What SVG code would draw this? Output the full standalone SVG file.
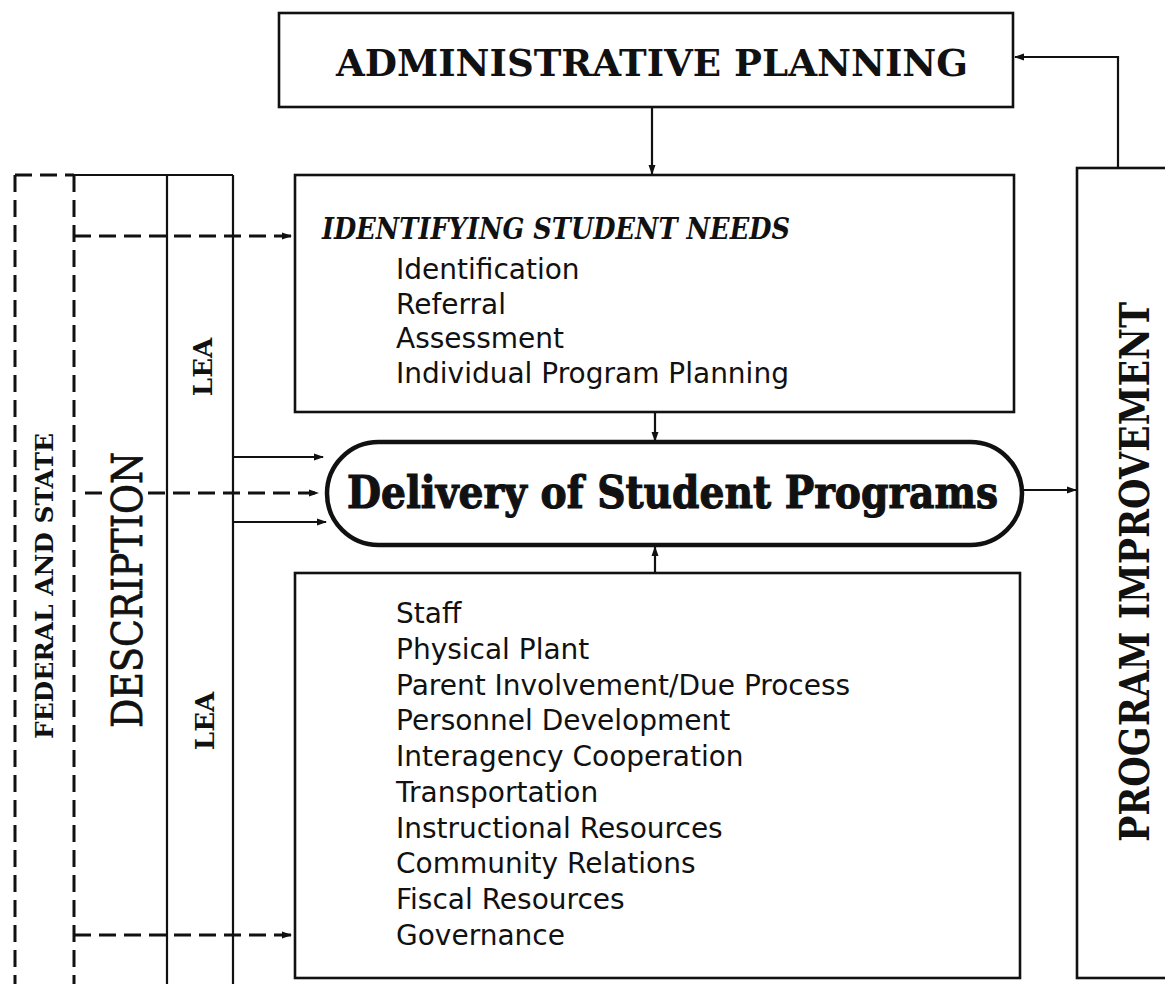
<svg xmlns="http://www.w3.org/2000/svg" width="1165" height="984" viewBox="0 0 1165 984">
  <defs>
    <style>
      .box { fill: none; stroke: #111; stroke-width: 2.6; }
      .oval { fill: #fff; stroke: #111; stroke-width: 4.5; }
      .solid { fill: none; stroke: #111; stroke-width: 2.2; }
      .dash { fill: none; stroke: #111; stroke-width: 3; stroke-dasharray: 17 8; }
      .slab { font-family: "DejaVu Serif", "Liberation Serif", serif; fill: #111; }
      .item { font-family: "DejaVu Sans", "Liberation Sans", sans-serif; font-size: 28px; fill: #111; }
    </style>
    <marker id="ah" viewBox="0 0 10 8" refX="9" refY="4" markerWidth="10" markerHeight="8" markerUnits="userSpaceOnUse" orient="auto">
      <path d="M0,0.5 L10,4 L0,7.5 z" fill="#111"/>
    </marker>
  </defs>
  <rect width="1165" height="984" fill="#fff"/>

  <!-- left frame: federal/state, description and LEA columns -->
  <g id="frame">
    <line class="dash" x1="15" y1="175" x2="15" y2="984"/>
    <line class="dash" x1="15" y1="175" x2="74" y2="175"/>
    <line class="dash" x1="74" y1="175" x2="74" y2="984"/>
    <line class="solid" x1="74" y1="175" x2="233" y2="175"/>
    <line class="solid" x1="167" y1="175" x2="167" y2="984"/>
    <line class="solid" x1="233" y1="175" x2="233" y2="984"/>
  </g>

  <g id="federal-state">
    <text class="slab" font-size="25" font-weight="bold" transform="translate(53,586) rotate(-90)" text-anchor="middle" textLength="306" lengthAdjust="spacingAndGlyphs">FEDERAL AND STATE</text>
  </g>
  <g id="description">
    <text class="slab" font-size="42" transform="translate(142,590) rotate(-90)" text-anchor="middle" textLength="276" lengthAdjust="spacingAndGlyphs" stroke="#111" stroke-width="0.8">DESCRIPTION</text>
  </g>
  <g id="lea-upper">
    <text class="slab" font-size="26" font-weight="bold" transform="translate(212,367) rotate(-90)" text-anchor="middle">LEA</text>
  </g>
  <g id="lea-lower">
    <text class="slab" font-size="26" font-weight="bold" transform="translate(214,721) rotate(-90)" text-anchor="middle">LEA</text>
  </g>

  <g id="administrative-planning">
    <rect class="box" x="279" y="13" width="734" height="94"/>
    <text class="slab" font-size="38" font-weight="bold" x="652" y="76" text-anchor="middle" textLength="632" lengthAdjust="spacingAndGlyphs">ADMINISTRATIVE PLANNING</text>
  </g>

  <g id="identifying-student-needs">
    <rect class="box" x="295" y="175" width="719" height="237"/>
    <text class="slab" font-size="30" font-weight="bold" font-style="italic" x="322" y="239" textLength="468" lengthAdjust="spacingAndGlyphs">IDENTIFYING STUDENT NEEDS</text>
    <text class="item" x="396" y="279">Identification</text>
    <text class="item" x="396" y="314">Referral</text>
    <text class="item" x="396" y="348">Assessment</text>
    <text class="item" x="396" y="383">Individual Program Planning</text>
  </g>

  <g id="delivery">
    <rect class="oval" x="327" y="442" width="695" height="103" rx="51.5"/>
    <text class="slab" font-size="45" font-weight="bold" x="347" y="508" textLength="651" lengthAdjust="spacingAndGlyphs" stroke="#111" stroke-width="1.2">Delivery of Student Programs</text>
  </g>

  <g id="support-areas">
    <rect class="box" x="295" y="573" width="725" height="405"/>
    <text class="item" x="396" y="623">Staff</text>
    <text class="item" x="396" y="659">Physical Plant</text>
    <text class="item" x="396" y="695">Parent Involvement/Due Process</text>
    <text class="item" x="396" y="730">Personnel Development</text>
    <text class="item" x="396" y="766">Interagency Cooperation</text>
    <text class="item" x="396" y="802">Transportation</text>
    <text class="item" x="396" y="838">Instructional Resources</text>
    <text class="item" x="396" y="873">Community Relations</text>
    <text class="item" x="396" y="909">Fiscal Resources</text>
    <text class="item" x="396" y="945">Governance</text>
  </g>

  <g id="program-improvement">
    <rect class="box" x="1077" y="168" width="130" height="810"/>
    <text class="slab" font-size="41" font-weight="bold" transform="translate(1149,572) rotate(-90)" text-anchor="middle" textLength="540" lengthAdjust="spacingAndGlyphs">PROGRAM IMPROVEMENT</text>
  </g>

  <g id="connectors">
    <line class="solid" x1="652" y1="107" x2="652" y2="174" marker-end="url(#ah)"/>
    <line class="solid" x1="655" y1="412" x2="655" y2="441" marker-end="url(#ah)"/>
    <line class="solid" x1="655" y1="573" x2="655" y2="547" marker-end="url(#ah)"/>
    <line class="solid" x1="1022" y1="490" x2="1076" y2="490" marker-end="url(#ah)"/>
    <path class="solid" d="M1118,168 V57 H1015" marker-end="url(#ah)"/>
    <line class="solid" x1="233" y1="457" x2="323" y2="457" marker-end="url(#ah)"/>
    <line class="solid" x1="233" y1="522" x2="326" y2="522" marker-end="url(#ah)"/>
    <line class="dash" x1="85" y1="493" x2="106" y2="493"/>
    <line class="dash" x1="148" y1="493" x2="318" y2="493" marker-end="url(#ah)"/>
    <line class="dash" x1="74" y1="236" x2="291" y2="236" marker-end="url(#ah)"/>
    <line class="dash" x1="74" y1="935" x2="291" y2="935" marker-end="url(#ah)"/>
  </g>
</svg>
